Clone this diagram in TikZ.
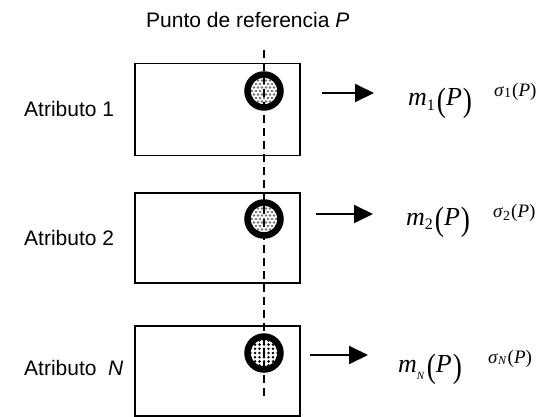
\documentclass[tikz,border=0pt]{standalone}
\usepackage{fontspec}
\setmainfont{Liberation Sans}
\newfontfamily\mathserif{Liberation Serif}
\usetikzlibrary{arrows.meta}

% tall parentheses in the equation style
\newcommand\tallp[2][1.3]{\raisebox{-0.2em}{\scalebox{1.05}[#1]{#2}}}
% mean value m_k(P)
\newcommand\meanlab[2]{{\mathserif\fontsize{26}{26}\selectfont
  \textit{m}\raisebox{#2}{#1}\kern2pt\tallp{(}\textit{P}\kern1pt\tallp{)}}}
% deviation sigma_k(P)
\newcommand\devlab[2]{{\mathserif\fontsize{19}{19}\selectfont
  \textit{σ}\raisebox{#2}{#1}\kern1pt(\textit{P})}}

\begin{document}
\begin{tikzpicture}[x=1pt,y=-1pt,
  attrbox/.style={draw, line width=1.5pt, anchor=north west, inner sep=0pt,
    minimum width=165pt},
  lbl/.style={font=\fontsize{21}{25}\selectfont, anchor=base west, inner sep=0pt},
  mathlbl/.style={anchor=base west, inner sep=0pt},
  arr/.style={line width=2pt, -{Triangle[length=19pt,width=18pt]}},
  ring/.style={draw, line width=6.5pt, circle, minimum size=33pt, inner sep=0pt},
  refline/.style={line width=1.6pt, dash pattern=on 8pt off 5pt}]

\useasboundingbox (0,0) rectangle (549,417);

% title
\node[lbl] (title) at (146,28) {Punto de referencia \textit{P}};

% attribute boxes
\node[attrbox, minimum height=92pt] (b1) at (134,63) {};
\node[attrbox, minimum height=90pt] (b2) at (134,192) {};
\node[attrbox, minimum height=90pt] (b3) at (134,325) {};

% attribute names
\node[lbl] (a1) at (24,117) {Atributo 1};
\node[lbl] (a2) at (24,245) {Atributo 2};
\node[lbl] (a3) at (24,375) {Atributo\ \ \textit{N}};

% circle centres
\coordinate (c1) at (264,91);
\coordinate (c2) at (264,219);
\coordinate (c3) at (264,353);

% dotted interiors
\foreach \c in {c1,c2}{
  \begin{scope}[shift={(\c)}]
    \clip (0,0) circle[radius=14pt];
    \foreach \j [evaluate=\j as \o using {mod(abs(\j),2)*2}] in {-4,...,4}
      \foreach \i in {-4,...,4}
        \fill[black!55] (\i*4+\o,\j*3.5) circle[radius=1.35pt];
  \end{scope}
}
\begin{scope}[shift={(c3)}]
  \clip (0,0) circle[radius=14pt];
  \foreach \j in {-3,...,3}
    \foreach \i in {-3,...,3}
      \fill[black] (\i*4.5,\j*4.2) circle[radius=1.4pt];
\end{scope}

% vertical reference line through P
\coordinate (top) at (264,50);
\coordinate (bot) at (264,400);
\draw[refline] (top) -- (bot);

% rings
\node[ring] (r1) at (c1) {};
\node[ring] (r2) at (c2) {};
\node[ring] (r3) at (c3) {};

% arrows
\coordinate (s1) at (322,93);  \coordinate (e1) at (374,93);
\coordinate (s2) at (316,214); \coordinate (e2) at (373,214);
\coordinate (s3) at (310,355); \coordinate (e3) at (368,355);
\draw[arr] (s1) -- (e1);
\draw[arr] (s2) -- (e2);
\draw[arr] (s3) -- (e3);

% results
\node[mathlbl] (m1) at (408,106) {\meanlab{\fontsize{16}{16}\selectfont 1}{-5pt}};
\node[mathlbl] (m2) at (406,225) {\meanlab{\fontsize{16}{16}\selectfont 2}{-5pt}};
\node[mathlbl] (m3) at (398,372) {\meanlab{\fontsize{11}{11}\selectfont\textit{N}}{-7pt}};

\node[mathlbl] (d1) at (494,97)  {\devlab{\fontsize{14}{14}\selectfont 1}{-1pt}};
\node[mathlbl] (d2) at (493,217) {\devlab{\fontsize{14}{14}\selectfont 2}{-3pt}};
\node[mathlbl] (d3) at (488,363) {\devlab{\fontsize{12}{12}\selectfont\textit{N}}{-1pt}};
\end{tikzpicture}
\end{document}
